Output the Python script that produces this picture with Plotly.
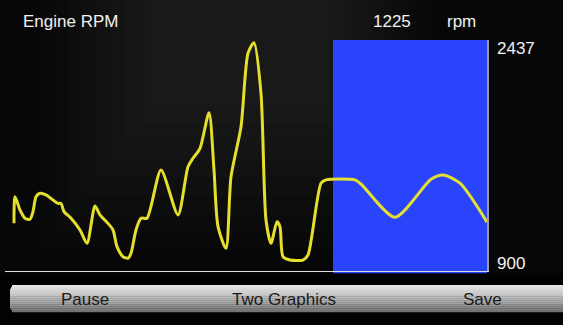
import plotly.graph_objects as go

# ─── Data ────────────────────────────────────────────────────────────
# sample positions (arbitrary time units) and engine speed in rpm
t = [0, 1, 6, 11, 16, 19, 22, 26, 32, 39, 44, 47, 50, 57, 66, 73, 81, 86,
     94, 99, 103, 109, 114, 117, 122, 127, 133, 147, 164, 174, 179, 186,
     195, 200, 204, 212, 217, 227, 234, 240, 247, 252, 257, 263, 266, 269,
     276, 289, 294, 307, 312, 341, 347, 381, 417, 429, 446, 473]
rpm = [1217, 1394, 1306, 1251, 1244, 1295, 1394, 1417, 1406, 1372, 1350,
       1350, 1295, 1251, 1173, 1084, 1333, 1273, 1217, 1173, 1062, 995,
       985, 1018, 1173, 1251, 1251, 1572, 1273, 1594, 1650, 1716, 1953,
       1572, 1195, 1051, 1527, 1860, 2349, 2419, 2082, 1239, 1084, 1228,
       1195, 995, 973, 973, 1006, 1484, 1506, 1506, 1479, 1257, 1510,
       1539, 1484, 1225]

RPM_MIN, RPM_MAX = 900, 2437
CURRENT_RPM = 1225
WINDOW = (319, 473)          # highlighted section of the trace
BUTTONS = ["Pause", "Two Graphics", "Save"]

# ─── Layout helpers (pixel -> paper) ─────────────────────────────────
W, H = 563, 325
ML, MR, MT, MB = 5, 76, 40, 54
PW, PH = W - ML - MR, H - MT - MB


def px(x):
    return (x - ML) / PW


def py(y):
    return (H - MB - y) / PH


YELLOW = "#e4df2c"
BLUE = "#2a44fb"
FONT = "Liberation Sans, Arial, sans-serif"

fig = go.Figure()

fig.add_trace(
    go.Scatter(
        x=t,
        y=rpm,
        mode="lines",
        line=dict(color=YELLOW, width=3, shape="spline", smoothing=0.7),
        hoverinfo="skip",
    )
)

shapes = []

# soft background glow (stepped gradient)
for i in range(9):
    shapes.append(dict(
        type="rect", xref="paper", yref="paper", layer="below",
        x0=px(40 + i * 14), x1=px(430 - i * 12),
        y0=py(250 - i * 18), y1=py(0),
        fillcolor="rgba(255,255,255,0.012)", line_width=0,
    ))

# black strip under the graph
shapes.append(dict(
    type="rect", xref="paper", yref="paper", layer="below",
    x0=px(0), x1=px(W), y0=py(H), y1=py(273),
    fillcolor="#020202", line_width=0,
))

# button bar with a vertical gray gradient
bar_top, bar_bot = 285, 312
grays = ["#e6e6e6", "#dedede", "#d6d6d6", "#cfcfcf", "#c9c9c9", "#c3c3c3",
         "#bdbdbd", "#b5b5b5", "#acacac", "#a2a2a2", "#979797", "#8b8b8b",
         "#7e7e7e", "#727272"]
step = (bar_bot - bar_top) / len(grays)
for i, g in enumerate(grays):
    inset = 2 if i in (0, len(grays) - 1) else (1 if i in (1, len(grays) - 2) else 0)
    shapes.append(dict(
        type="rect", xref="paper", yref="paper", layer="above",
        x0=px(10 + inset), x1=px(W + 10),
        y0=py(bar_top + (i + 1) * step + 0.3), y1=py(bar_top + i * step),
        fillcolor=g, line_width=0,
    ))

annotations = [
    dict(text="Engine RPM", x=px(21), y=py(21), xanchor="left"),
    dict(text=str(CURRENT_RPM), x=px(392), y=py(21), xanchor="center"),
    dict(text="rpm", x=px(461), y=py(21), xanchor="center"),
    dict(text=str(RPM_MAX), x=px(495), y=py(48), xanchor="left"),
    dict(text=str(RPM_MIN), x=px(495), y=py(263), xanchor="left"),
]
for a in annotations:
    a.update(xref="paper", yref="paper", yanchor="middle", showarrow=False,
             font=dict(family=FONT, size=17, color="#f2f2f2"))

for label, cx in zip(BUTTONS, [85, 284, 482]):
    annotations.append(dict(
        text=label, x=px(cx), y=py(299), xref="paper", yref="paper",
        xanchor="center", yanchor="middle", showarrow=False,
        font=dict(family=FONT, size=17, color="#1a1a1a"),
    ))

fig.update_layout(
    width=W,
    height=H,
    margin=dict(l=ML, r=MR, t=MT, b=MB),
    paper_bgcolor="#070707",
    plot_bgcolor="rgba(0,0,0,0)",
    showlegend=False,
    shapes=shapes,
    annotations=annotations,
    xaxis=dict(range=[-9, 473], showgrid=False, zeroline=False,
               showticklabels=False, showline=True, linecolor="#dcdcdc",
               linewidth=1, fixedrange=True),
    yaxis=dict(range=[RPM_MIN, RPM_MAX], showgrid=False, zeroline=False,
               showticklabels=False, side="right", showline=True,
               linecolor="#9a9aa8", linewidth=2, fixedrange=True),
)

# highlighted (blue) window, drawn under the trace
fig.add_vrect(x0=WINDOW[0], x1=WINDOW[1], y0=-0.01, y1=1,
              fillcolor=BLUE, opacity=1, line_width=0, layer="below")

fig.write_html(
    "out.html",
    config=dict(displayModeBar=False),
    post_script="document.body.style.margin='0';document.body.style.overflow='hidden';",
)
